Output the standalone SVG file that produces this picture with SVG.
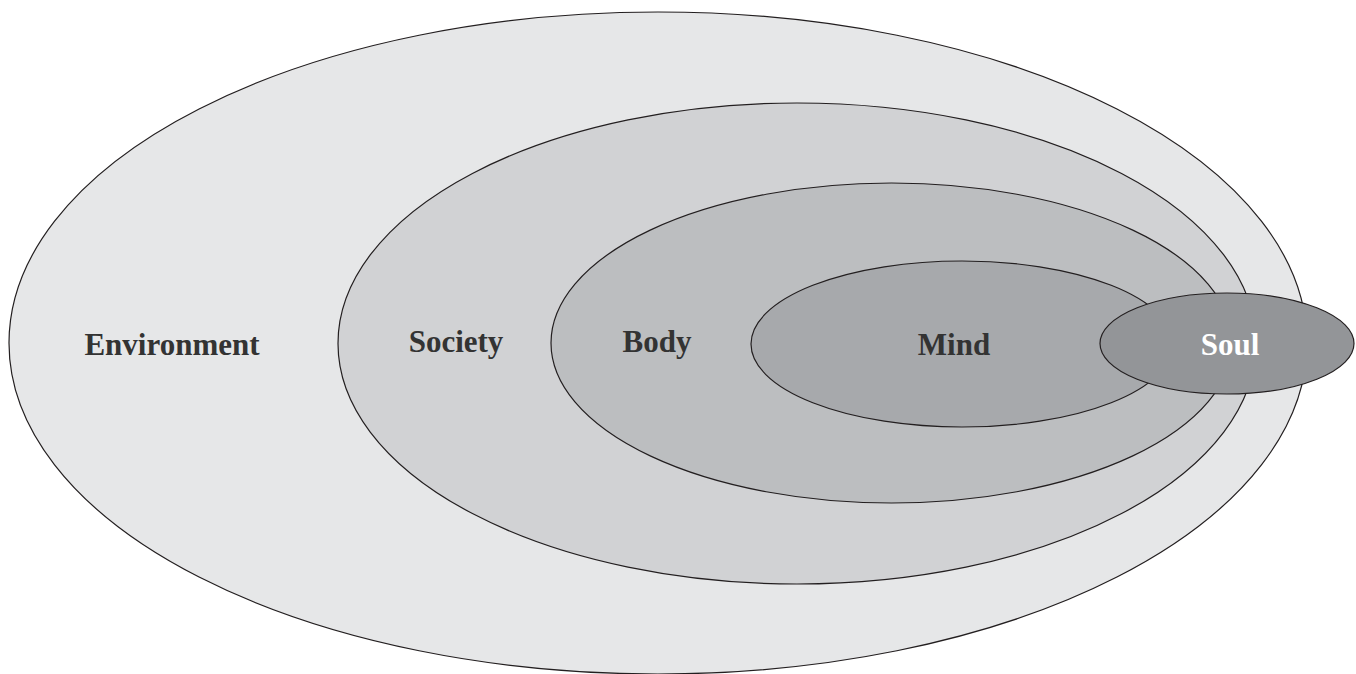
<svg xmlns="http://www.w3.org/2000/svg" width="1356" height="674" viewBox="0 0 1356 674">
<style>
.ring{stroke:#231f20;stroke-width:1.2}
.lbl{font-family:"Liberation Serif","Times New Roman",serif;font-weight:bold;font-size:31px;fill:#333333;text-anchor:middle}
</style>
<rect width="1356" height="674" fill="#ffffff"/>
<g id="environment"><ellipse class="ring" cx="658" cy="343" rx="649" ry="331" fill="#e6e7e8"/><text class="lbl" x="172" y="355">Environment</text></g>
<g id="society"><ellipse class="ring" cx="797" cy="343.5" rx="459" ry="240.5" fill="#d1d2d4"/><text class="lbl" x="456" y="352">Society</text></g>
<g id="body"><ellipse class="ring" cx="891.5" cy="343" rx="340.5" ry="160" fill="#bcbec0"/><text class="lbl" x="657" y="352">Body</text></g>
<g id="mind"><ellipse class="ring" cx="962" cy="344" rx="211" ry="83" fill="#a7a9ac"/><text class="lbl" x="954" y="355">Mind</text></g>
<g id="soul"><ellipse class="ring" cx="1227" cy="343.5" rx="127" ry="50.5" fill="#939598"/><text class="lbl" x="1230" y="355" style="fill:#ffffff">Soul</text></g>
<g id="connectors"/>
</svg>
